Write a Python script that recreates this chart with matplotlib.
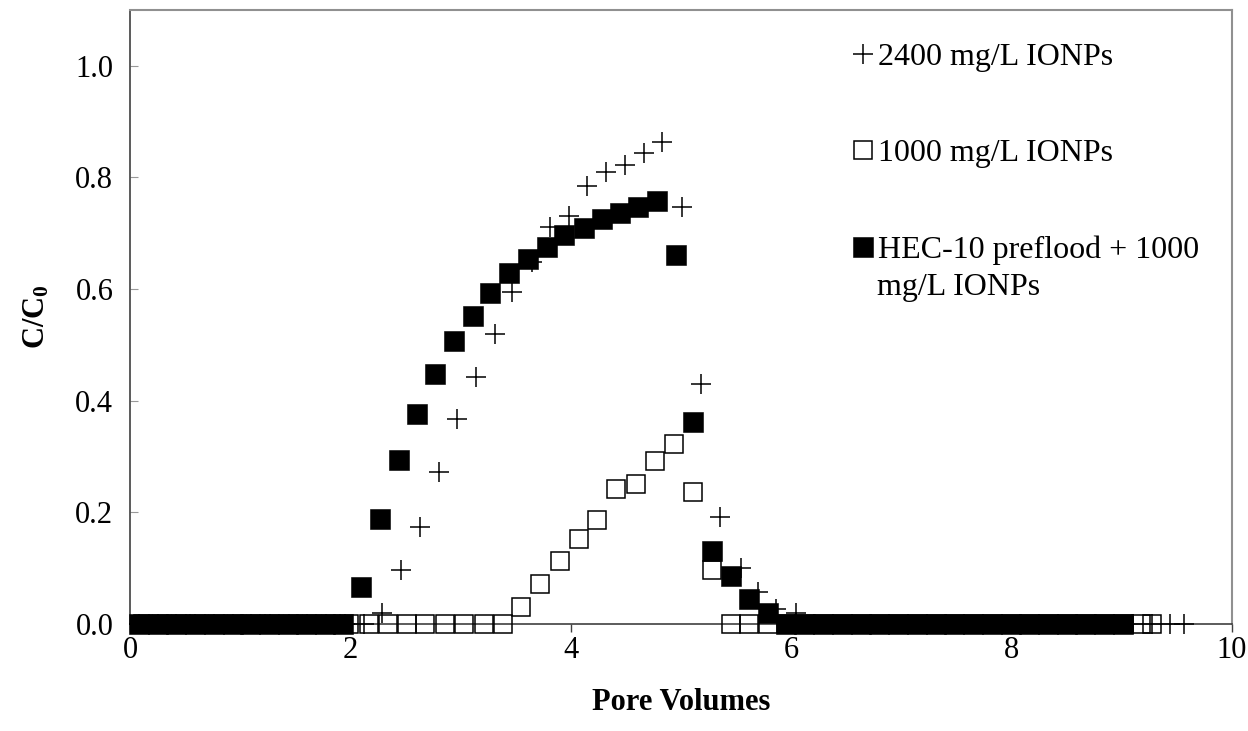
import matplotlib
matplotlib.use("Agg")
import matplotlib.pyplot as plt

plt.rcParams['font.family'] = ['Liberation Serif', 'DejaVu Serif']
plt.rcParams['mathtext.fontset'] = 'custom'
plt.rcParams['mathtext.rm'] = 'Liberation Serif'
plt.rcParams['mathtext.bf'] = 'Liberation Serif:bold'

# 2400 mg/L IONPs (crosses)
pv_2400 = [0.08, 0.25, 0.42, 0.59, 0.76, 0.93, 1.10, 1.27, 1.44, 1.61, 1.78, 1.95, 2.12,
           2.29, 2.46, 2.63, 2.80, 2.97, 3.14, 3.31, 3.47, 3.65, 3.81, 3.98, 4.15, 4.32,
           4.49, 4.66, 4.83, 5.01, 5.18, 5.35, 5.54, 5.70, 5.86, 6.04,
           6.21, 6.38, 6.55, 6.72, 6.89, 7.06, 7.23, 7.40, 7.57, 7.74, 7.91, 8.08, 8.25,
           8.42, 8.59, 8.76, 8.93, 9.10, 9.27, 9.44, 9.56]
c_2400 = [0, 0, 0, 0, 0, 0, 0, 0, 0, 0, 0, 0, 0,
          0.020, 0.097, 0.173, 0.272, 0.368, 0.442, 0.519, 0.594, 0.649, 0.712, 0.730,
          0.784, 0.810, 0.823, 0.844, 0.864, 0.747, 0.430, 0.192, 0.100, 0.057, 0.027, 0.020,
          0, 0, 0, 0, 0, 0, 0, 0, 0, 0, 0, 0, 0, 0, 0, 0, 0, 0, 0, 0, 0]

# 1000 mg/L IONPs (open squares)
pv_1000 = [0.12, 0.29, 0.46, 0.63, 0.80, 0.97, 1.14, 1.31, 1.48, 1.65, 1.82, 1.99,
           2.17, 2.34, 2.51, 2.68, 2.86, 3.03, 3.21, 3.38,
           3.55, 3.72, 3.90, 4.07, 4.24, 4.41, 4.59, 4.76, 4.94, 5.11, 5.28,
           5.45, 5.62, 5.79, 5.96, 6.13, 6.30, 6.47, 6.64, 6.81, 6.98, 7.15, 7.32,
           7.49, 7.66, 7.83, 8.00, 8.17, 8.34, 8.51, 8.68, 8.85, 9.02, 9.17, 9.27]
c_1000 = [0, 0, 0, 0, 0, 0, 0, 0, 0, 0, 0, 0,
          0, 0, 0, 0, 0, 0, 0, 0,
          0.031, 0.071, 0.112, 0.153, 0.187, 0.241, 0.251, 0.292, 0.322, 0.237, 0.097,
          0, 0, 0, 0, 0, 0, 0, 0, 0, 0, 0, 0,
          0, 0, 0, 0, 0, 0, 0, 0, 0, 0, 0, 0]

# HEC-10 preflood + 1000 mg/L IONPs (filled squares)
pv_hec = [0.08, 0.25, 0.42, 0.59, 0.76, 0.93, 1.09, 1.26, 1.43, 1.60, 1.77, 1.93,
          2.10, 2.27, 2.44, 2.60, 2.77, 2.94, 3.11, 3.27, 3.44, 3.61, 3.78, 3.94,
          4.12, 4.28, 4.45, 4.61, 4.78, 4.95, 5.11, 5.28, 5.45, 5.62, 5.79,
          5.95, 6.12, 6.29, 6.46, 6.63, 6.80, 6.97, 7.14, 7.31, 7.48, 7.65, 7.82,
          7.99, 8.16, 8.33, 8.50, 8.67, 8.84, 9.01]
c_hec = [0, 0, 0, 0, 0, 0, 0, 0, 0, 0, 0, 0,
         0.067, 0.188, 0.293, 0.377, 0.448, 0.507, 0.552, 0.593, 0.628, 0.654, 0.676,
         0.697, 0.710, 0.725, 0.737, 0.747, 0.758, 0.661, 0.362, 0.131, 0.086, 0.044, 0.019,
         0, 0, 0, 0, 0, 0, 0, 0, 0, 0, 0, 0,
         0, 0, 0, 0, 0, 0, 0]

labels = ['2400 mg/L IONPs', '1000 mg/L IONPs', 'HEC-10 preflood + 1000']

fig = plt.figure(figsize=(12.48, 7.31), dpi=100)
ax = fig.add_axes([0.1042, 0.1464, 0.8830, 0.8400])

l1, = ax.plot(pv_2400, c_2400, ls='none', marker='+', ms=15, mew=1.1,
              color='black', clip_on=False, zorder=3)
l2, = ax.plot(pv_1000, c_1000, ls='none', marker='s', ms=13, mew=1.1,
              mfc='none', mec='black', clip_on=False, zorder=4)
l3, = ax.plot(pv_hec, c_hec, ls='none', marker='s', ms=14, mew=0.4,
              mfc='black', mec='black', clip_on=False, zorder=5)

ax.set_xlim(0, 10)
ax.set_ylim(0, 1.1)
ax.set_xticks([0, 2, 4, 6, 8, 10])
ax.set_yticks([0.0, 0.2, 0.4, 0.6, 0.8, 1.0])
ax.set_yticklabels(['0.0', '0.2', '0.4', '0.6', '0.8', '1.0'])

ax.tick_params(axis='x', direction='out', length=6, width=1, color='#404040',
               labelsize=22, pad=3)
ax.tick_params(axis='y', direction='in', length=6, width=0.8, color='#999999',
               labelsize=22, pad=12)

for s in ['left', 'bottom']:
    ax.spines[s].set_color('#404040')
    ax.spines[s].set_linewidth(1.2)
for s in ['top', 'right']:
    ax.spines[s].set_color('#909090')
    ax.spines[s].set_linewidth(1.5)

ax.set_xlabel('Pore Volumes', fontsize=22, fontweight='bold', labelpad=16)
ax.set_ylabel(r'$\mathbf{C/C_0}$', fontsize=22, labelpad=17)

leg = ax.legend([l1, l2, l3], labels, loc='upper left', bbox_to_anchor=(0.655, 0.947),
                frameon=False, fontsize=23, borderpad=0, handlelength=0.68,
                handletextpad=0.15, labelspacing=2.1, borderaxespad=0)
ax.text(0.678, 0.536, 'mg/L IONPs', transform=ax.transAxes, fontsize=23,
        va='baseline', ha='left')

fig.savefig('out.png', dpi=100)
